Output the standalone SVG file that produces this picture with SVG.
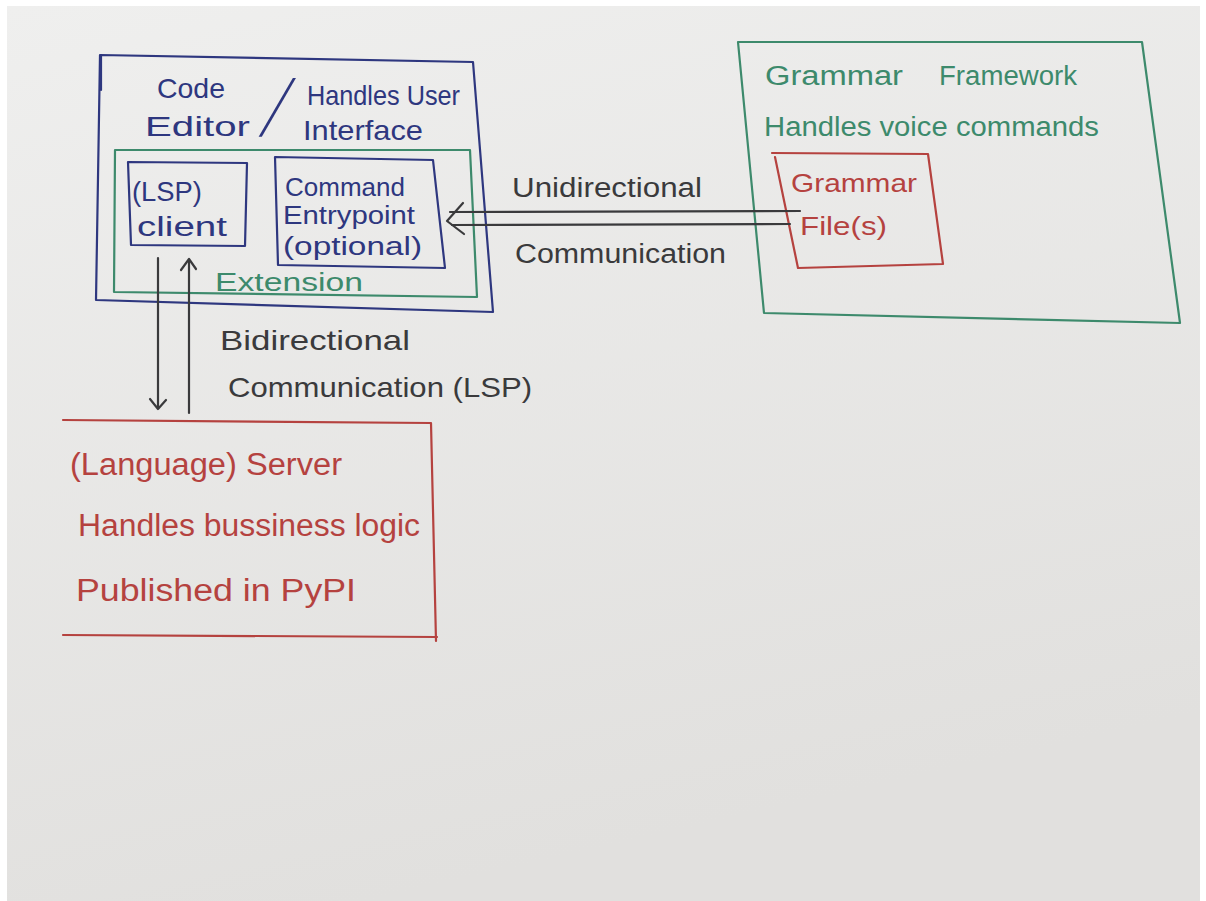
<svg xmlns="http://www.w3.org/2000/svg" width="1206" height="901" viewBox="0 0 1206 901">
  <defs>
    <linearGradient id="paper" x1="0" y1="0" x2="0.3" y2="1">
      <stop offset="0" stop-color="#efefee"/>
      <stop offset="1" stop-color="#e1e0de"/>
    </linearGradient>
    <style>
      .ink { fill: none; stroke-width: 2.2; stroke-linejoin: round; stroke-linecap: round; }
      .blue { stroke: #2e377f; }
      .green { stroke: #3d8a6c; }
      .red { stroke: #b5423f; }
      .black { stroke: #3a3a3c; }
      text { font-family: "Liberation Sans", "DejaVu Sans", sans-serif; }
      .tb { fill: #2e377f; }
      .tg { fill: #3d8a6c; }
      .tr { fill: #b5423f; }
      .tk { fill: #3a3a3c; }
    </style>
  </defs>

  <rect x="0" y="0" width="1206" height="901" fill="#ffffff"/>
  <rect x="7" y="6" width="1193" height="895" fill="url(#paper)"/>

  <!-- Code Editor node -->
  <g id="code-editor">
    <path class="ink blue" d="M100,55 L473,62 L493,312 L96,300 Z"/>
    <path class="ink blue" d="M101,56 L101,90" stroke-width="4"/>
    <text class="tb" x="157" y="98" font-size="28" textLength="68" lengthAdjust="spacingAndGlyphs">Code</text>
    <text class="tb" x="145" y="136" font-size="28" textLength="105" lengthAdjust="spacingAndGlyphs">Editor</text>
    <text class="tb" transform="translate(259,136) skewX(-24) scale(0.5,1)" x="0" y="0" font-size="80">/</text>
    <text class="tb" x="307" y="105" font-size="28" textLength="153" lengthAdjust="spacingAndGlyphs">Handles User</text>
    <text class="tb" x="303" y="140" font-size="28" textLength="120" lengthAdjust="spacingAndGlyphs">Interface</text>
  </g>

  <!-- Extension node -->
  <g id="extension">
    <path class="ink green" d="M115,150 L470,150 L477,297 L114,292 Z"/>
    <text class="tg" x="215" y="291" font-size="26" textLength="148" lengthAdjust="spacingAndGlyphs">Extension</text>
  </g>

  <!-- LSP client node -->
  <g id="lsp-client">
    <path class="ink blue" d="M128,162 L247,163 L245,246 L131,245 Z"/>
    <text class="tb" x="132" y="201" font-size="27" textLength="70" lengthAdjust="spacingAndGlyphs">(LSP)</text>
    <text class="tb" x="137" y="236" font-size="27" textLength="90" lengthAdjust="spacingAndGlyphs">client</text>
  </g>

  <!-- Command Entrypoint node -->
  <g id="command-entrypoint">
    <path class="ink blue" d="M275,157 L433,160 L445,268 L278,265 Z"/>
    <text class="tb" x="285" y="196" font-size="25" textLength="120" lengthAdjust="spacingAndGlyphs">Command</text>
    <text class="tb" x="283" y="224" font-size="25" textLength="132" lengthAdjust="spacingAndGlyphs">Entrypoint</text>
    <text class="tb" x="283" y="255" font-size="25" textLength="139" lengthAdjust="spacingAndGlyphs">(optional)</text>
  </g>

  <!-- Grammar Framework node -->
  <g id="grammar-framework">
    <path class="ink green" d="M738,42 L1142,42 L1180,323 L764,313 Z"/>
    <text class="tg" x="765" y="85" font-size="27" textLength="138" lengthAdjust="spacingAndGlyphs">Grammar</text>
    <text class="tg" x="939" y="85" font-size="27" textLength="138" lengthAdjust="spacingAndGlyphs">Framework</text>
    <text class="tg" x="764" y="136" font-size="27" textLength="335" lengthAdjust="spacingAndGlyphs">Handles voice commands</text>
  </g>

  <!-- Grammar File(s) node -->
  <g id="grammar-files">
    <path class="ink red" d="M772,153 L928,154 L943,264 L798,268 L775,157"/>
    <text class="tr" x="791" y="192" font-size="26" textLength="126" lengthAdjust="spacingAndGlyphs">Grammar</text>
    <text class="tr" x="800" y="235" font-size="26" textLength="87" lengthAdjust="spacingAndGlyphs">File(s)</text>
  </g>

  <!-- Language Server node -->
  <g id="language-server">
    <path class="ink red" d="M63,420 L431,423 L436,641 M437,637 L63,635 Z"/>
    <text class="tr" x="70" y="475" font-size="31" textLength="272" lengthAdjust="spacingAndGlyphs">(Language) Server</text>
    <text class="tr" x="78" y="536" font-size="31" textLength="342" lengthAdjust="spacingAndGlyphs">Handles bussiness logic</text>
    <text class="tr" x="76" y="601" font-size="31" textLength="280" lengthAdjust="spacingAndGlyphs">Published in PyPI</text>
  </g>

  <!-- Connectors -->
  <g id="connectors">
    <g id="unidirectional">
      <path class="ink black" d="M450,212 L800,211"/>
      <path class="ink black" d="M452,225 L790,224"/>
      <path class="ink black" d="M463,203 L447,221 L464,234"/>
    </g>
    <g id="lsp-down">
      <path class="ink black" d="M158,258 L158,408"/>
      <path class="ink black" d="M150,399 L158,409 L166,400"/>
    </g>
    <g id="lsp-up">
      <path class="ink black" d="M189,413 L189,260"/>
      <path class="ink black" d="M181,270 L189,259 L196,269"/>
    </g>
    <g id="connector-labels">
      <text class="tk" x="512" y="197" font-size="27" textLength="190" lengthAdjust="spacingAndGlyphs">Unidirectional</text>
      <text class="tk" x="515" y="263" font-size="27" textLength="211" lengthAdjust="spacingAndGlyphs">Communication</text>
      <text class="tk" x="220" y="350" font-size="28" textLength="190" lengthAdjust="spacingAndGlyphs">Bidirectional</text>
      <text class="tk" x="228" y="397" font-size="28" textLength="304" lengthAdjust="spacingAndGlyphs">Communication (LSP)</text>
    </g>
  </g>
</svg>
